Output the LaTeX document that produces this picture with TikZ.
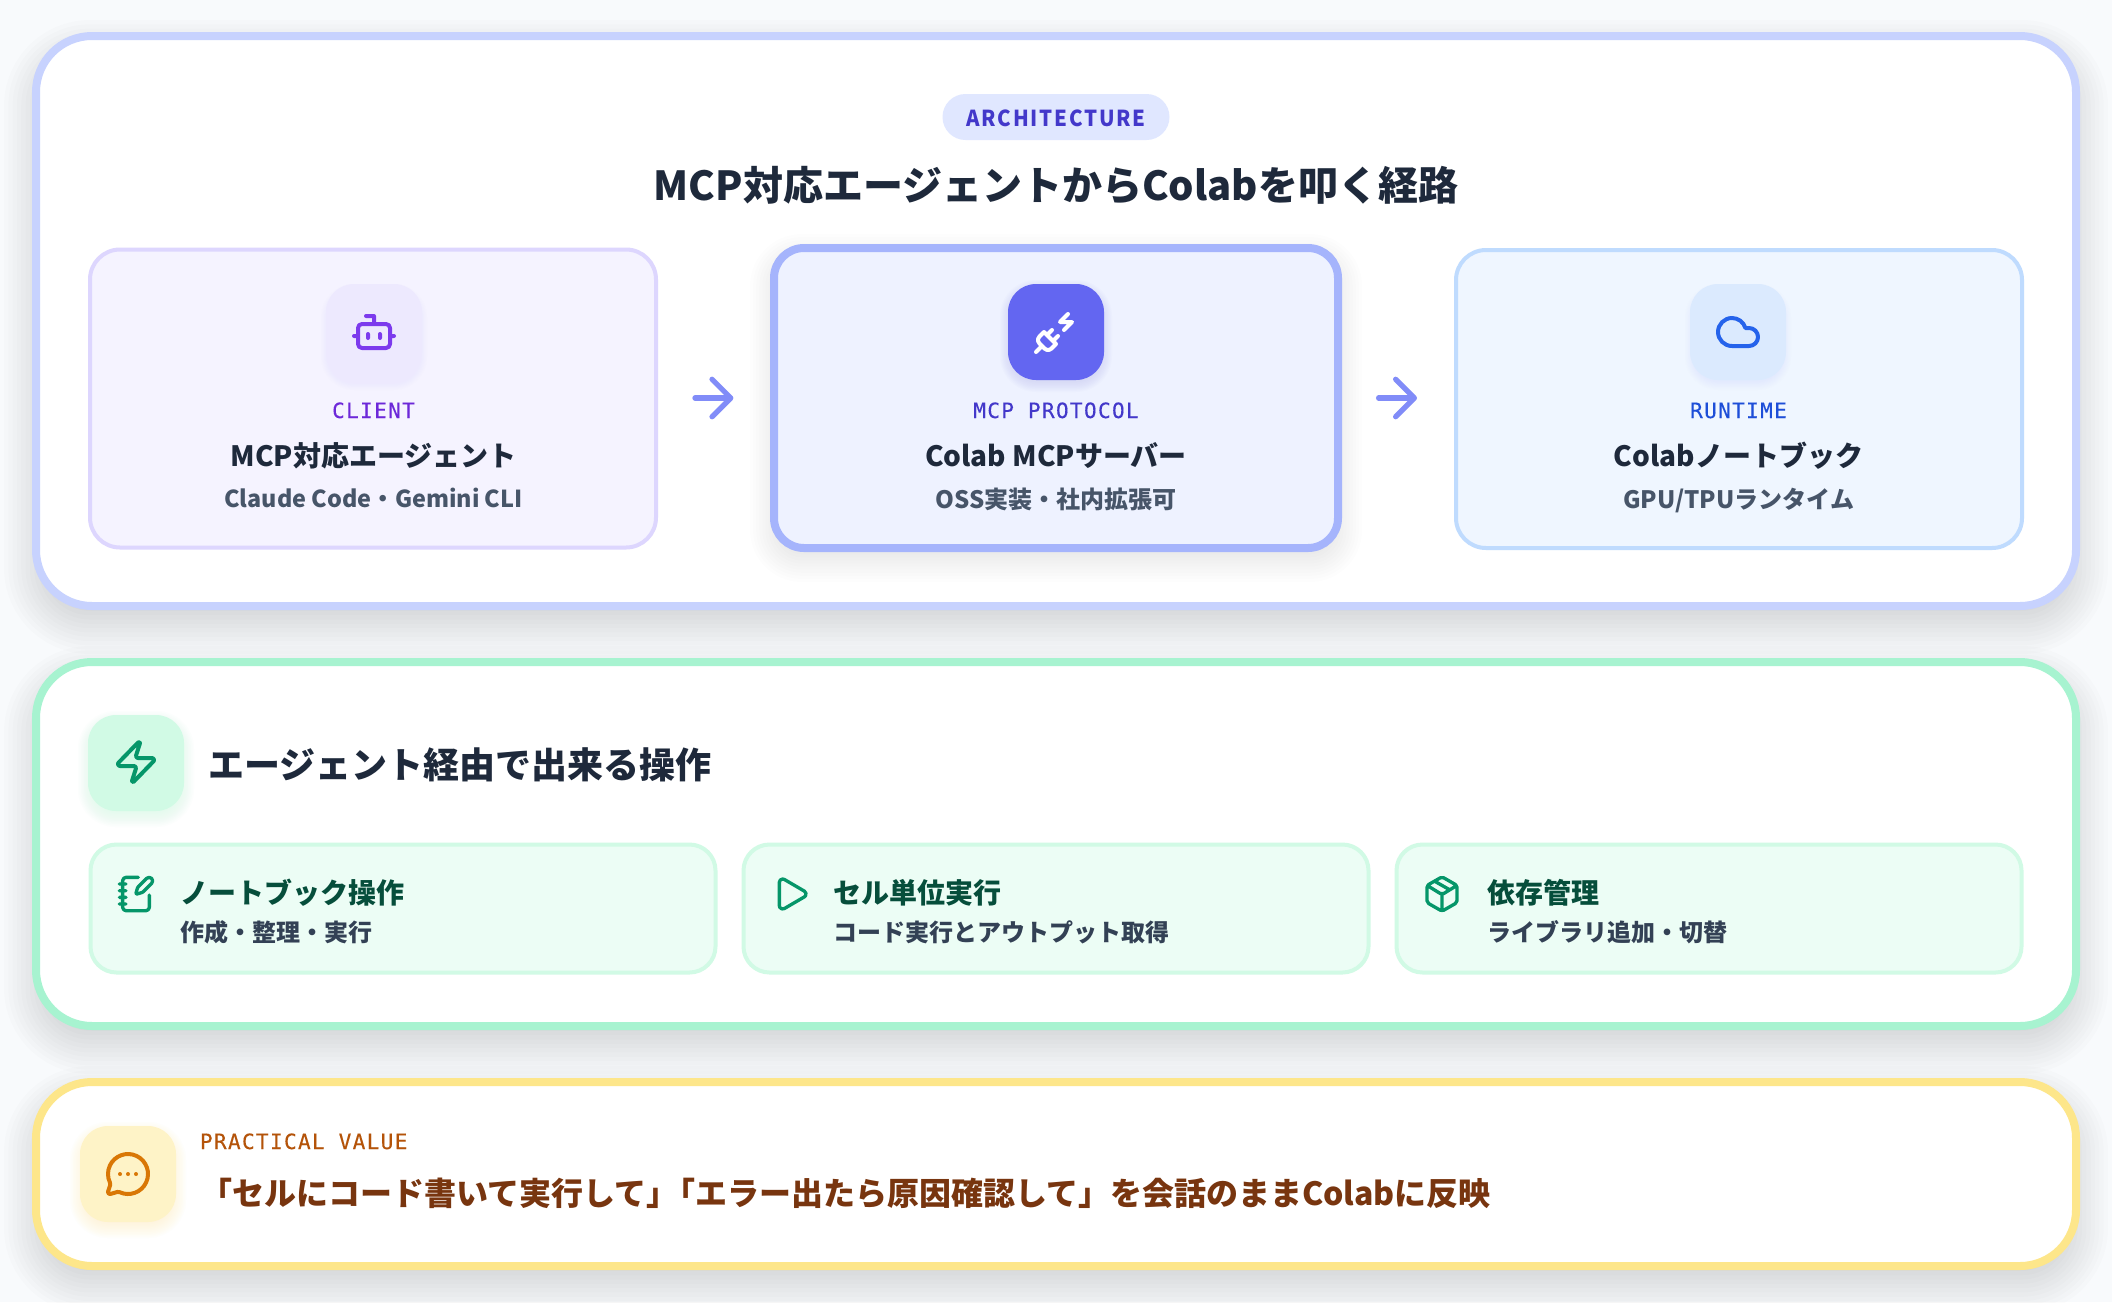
\documentclass[tikz,border=0pt]{standalone}
\usepackage{fontspec}
\usetikzlibrary{arrows.meta,svg.path,calc}
\setmainfont{Noto Sans CJK JP}
\newfontfamily\monof[LetterSpace=6.5,FakeBold=0.25]{DejaVu Sans Mono}
\newfontfamily\archf[LetterSpace=8,FakeStretch=0.93]{Noto Sans CJK JP}
\definecolor{pagebg}{HTML}{F8FAFC}
\definecolor{indigoB}{HTML}{C7D2FE}
\definecolor{greenB}{HTML}{A7F3D0}
\definecolor{amberB}{HTML}{FDE68A}
\definecolor{violetF}{HTML}{F5F3FF}
\definecolor{violetL}{HTML}{DDD6FE}
\definecolor{violetT}{HTML}{EDE9FE}
\definecolor{violetI}{HTML}{7C3AED}
\definecolor{violetD}{HTML}{6D28D9}
\definecolor{indF}{HTML}{EEF2FF}
\definecolor{indL}{HTML}{A5B4FC}
\definecolor{indT}{HTML}{6366F1}
\definecolor{indD}{HTML}{4338CA}
\definecolor{indP}{HTML}{E0E7FF}
\definecolor{arrowc}{HTML}{818CF8}
\definecolor{blueF}{HTML}{EFF6FF}
\definecolor{blueL}{HTML}{BFDBFE}
\definecolor{blueT}{HTML}{DBEAFE}
\definecolor{blueI}{HTML}{2563EB}
\definecolor{blueD}{HTML}{1D4ED8}
\definecolor{ink}{HTML}{1E293B}
\definecolor{slate}{HTML}{475569}
\definecolor{slateD}{HTML}{334155}
\definecolor{greenF}{HTML}{ECFDF5}
\definecolor{greenL}{HTML}{D1FAE5}
\definecolor{greenI}{HTML}{059669}
\definecolor{greenD}{HTML}{064E3B}
\definecolor{amberT}{HTML}{FEF3C7}
\definecolor{amberI}{HTML}{D97706}
\definecolor{amberD}{HTML}{B45309}
\definecolor{brownD}{HTML}{78350F}
\newcommand{\fz}[1]{\fontsize{#1}{#1}\selectfont}
% soft shadow made of stacked translucent rounded boxes
\newcommand{\softshadow}[9]{%
  \foreach \k in {0,...,13}{%
    \pgfmathsetmacro{\gr}{#7*(0.5-\k/13)}%
    \pgfmathsetmacro{\rr}{max(1,#5+\gr)}%
    \fill[#8,fill opacity=#9/14,rounded corners=\rr pt]
      (#1-\gr,#2-\gr+#6) rectangle (#3+\gr,#4+\gr+#6);%
  }}
% icon drawn in a 24-unit box, centred on (#1,#2), #3 px per unit
\newcommand{\lucide}[5]{%
  \begin{scope}[transform canvas={shift={(#1,#2)},scale=#3,yscale=-1,xshift=-12pt,yshift=-12pt}]
    \draw[color=#4,line width=2pt,line cap=round,line join=round] svg {#5};
  \end{scope}}
\tikzset{
  outercard/.style={draw,fill=white,line width=8pt,rounded corners=56pt,inner sep=0pt,outer sep=0pt},
  stagecard/.style={draw,line width=4pt,rounded corners=30pt,inner sep=0pt,outer sep=0pt,minimum width=566pt,minimum height=298pt},
  herocard/.style={draw,line width=8pt,rounded corners=30pt,inner sep=0pt,outer sep=0pt,minimum width=564pt,minimum height=300pt},
  opcard/.style={draw=greenL,fill=greenF,line width=4pt,rounded corners=26pt,inner sep=0pt,outer sep=0pt,minimum width=625pt,minimum height=128pt},
  tile/.style={rounded corners=28pt,inner sep=0pt,outer sep=0pt,minimum width=96pt,minimum height=96pt},
  txt/.style={inner sep=0pt,outer sep=0pt,anchor=base},
  txtl/.style={inner sep=0pt,outer sep=0pt,anchor=base west},
  flowarrow/.style={draw=arrowc,line width=5.3pt,line cap=round,-{Straight Barb[length=18.7pt,width=37.4pt,round]}},
}
\begin{document}
\begin{tikzpicture}[x=1pt,y=-1pt]
\useasboundingbox (0,0) rectangle (2112,1302);
\fill[pagebg] (0,0) rectangle (2112,1302);
% shadows
\softshadow{32}{32}{2080}{610}{58}{16}{56}{black}{0.14}
\softshadow{32}{658}{2080}{1030}{58}{16}{56}{black}{0.14}
\softshadow{32}{1078}{2080}{1270}{58}{16}{56}{black}{0.14}
% outer cards
\node[outercard,draw=indigoB,minimum width=2040pt,minimum height=570pt] (archcard) at (1056,321) {};
\node[outercard,draw=greenB,minimum width=2040pt,minimum height=364pt] (opscard) at (1056,844) {};
\node[outercard,draw=amberB,minimum width=2040pt,minimum height=184pt] (valuecard) at (1056,1174) {};
% heading
\node[fill=indP,rounded corners=23pt,minimum width=227pt,minimum height=46pt,inner sep=0pt] (pill) at (1056,117) {};
\node[txt,text=indD] (pilltext) at (1056,126) {\archf\bfseries\fz{22}ARCHITECTURE};
\node[txt,text=ink] (title) at (1056,200) {\bfseries\fz{40}MCP対応エージェントからColabを叩く経路};
% stage cards
\softshadow{770}{244}{1342}{552}{32}{10}{40}{black}{0.10}
\node[stagecard,draw=violetL,fill=violetF] (client) at (373,398.5) {};
\node[herocard,draw=indL,fill=indF] (server) at (1056,398) {};
\node[stagecard,draw=blueL,fill=blueF] (runtime) at (1739,399) {};
% tiles
\softshadow{326}{284}{422}{380}{28}{5}{10}{violetT}{0.3}
\softshadow{1008}{284}{1104}{380}{28}{4}{16}{indT}{0.2}
\softshadow{1690}{284}{1786}{380}{28}{5}{10}{blueT}{0.3}
\node[tile,fill=violetT] (clienttile) at (374,332) {};
\node[tile,fill=indT] (servertile) at (1056,332) {};
\node[tile,fill=blueT] (runtimetile) at (1738,332) {};
\lucide{374}{332}{2}{violetI}{M 12 8 V 4 H 8 M 6 8 H 18 a 2 2 0 0 1 2 2 V 18 a 2 2 0 0 1 -2 2 H 6 a 2 2 0 0 1 -2 -2 V 10 a 2 2 0 0 1 2 -2 Z M 2 14 h 2 M 20 14 h 2 M 15 13 v 2 M 9 13 v 2}
\lucide{1056}{332}{2}{white}{M 6.3 20.3 a 2.4 2.4 0 0 0 3.4 0 L 12 18 l -6 -6 l -2.3 2.3 a 2.4 2.4 0 0 0 0 3.4 Z M 2 22 l 3 -3 M 7.5 13.5 L 10 11 M 10.5 16.5 L 13 14 M 18 3 l -4 4 h 6 l -4 4}
\lucide{1738}{332}{2}{blueI}{M 17.5 19 H 9 a 7 7 0 1 1 6.71 -9 h 1.79 a 4.5 4.5 0 1 1 0 9 Z}
% stage labels
\node[txt,text=violetD] (l1) at (373.5,418) {\monof\fz{21}CLIENT};
\node[txt,text=ink] (t1) at (373.5,466) {\bfseries\fz{28}MCP対応エージェント};
\node[txt,text=slate] (s1) at (373.5,507.5) {\bfseries\fz{23.4}Claude Code・Gemini CLI};
\node[txt,text=indD] (l2) at (1056,418) {\monof\fz{21}MCP PROTOCOL};
\node[txt,text=ink] (t2) at (1056,466) {\bfseries\fz{28}Colab MCPサーバー};
\node[txt,text=slate] (s2) at (1056,508) {\bfseries\fz{24}OSS実装・社内拡張可};
\node[txt,text=blueD] (l3) at (1738.5,418) {\monof\fz{21}RUNTIME};
\node[txt,text=ink] (t3) at (1738.5,466) {\bfseries\fz{28}Colabノートブック};
\node[txt,text=slate] (s3) at (1738.5,508) {\bfseries\fz{24}GPU/TPUランタイム};
% connectors
\coordinate (flowrow) at (0,398);
\draw[flowarrow,shorten <=39pt,shorten >=40.6pt] (client.east |- flowrow) -- (server.west |- flowrow);
\draw[flowarrow,shorten <=40.6pt,shorten >=39pt] (server.east |- flowrow) -- (runtime.west |- flowrow);
% operations
\softshadow{88}{715}{184}{811}{28}{6}{20}{greenL}{0.9}
\node[tile,fill=greenL] (optile) at (136,763) {};
\lucide{136}{762}{2}{greenI}{M 4 14 a 1 1 0 0 1 -0.78 -1.63 l 9.9 -10.2 a 0.5 0.5 0 0 1 0.86 0.46 l -1.92 6.02 A 1 1 0 0 0 13 10 h 7 a 1 1 0 0 1 0.78 1.63 l -9.9 10.2 a 0.5 0.5 0 0 1 -0.86 -0.46 l 1.92 -6.02 A 1 1 0 0 0 11 14 z}
\node[txtl,text=ink] (opshead) at (208.5,778) {\bfseries\fz{36}エージェント経由で出来る操作};
\node[opcard] (op1) at (403,908.5) {};
\node[opcard] (op2) at (1056,908.5) {};
\node[opcard] (op3) at (1709,908.5) {};
\lucide{136}{894}{1.667}{greenI}{M 13.4 2 H 6 a 2 2 0 0 0 -2 2 v 16 a 2 2 0 0 0 2 2 h 12 a 2 2 0 0 0 2 -2 v -7.4 M 2 6 h 4 M 2 10 h 4 M 2 14 h 4 M 2 18 h 4 M 21.378 5.626 a 1 1 0 1 0 -3.004 -3.004 l -5.01 5.012 a 2 2 0 0 0 -0.506 0.854 l -0.837 2.87 a 0.5 0.5 0 0 0 0.62 0.62 l 2.87 -0.837 a 2 2 0 0 0 0.854 -0.506 z}
\lucide{791}{894}{1.667}{greenI}{M 5 5 a 2 2 0 0 1 3.008 -1.728 l 11.997 6.998 a 2 2 0 0 1 0.003 3.458 l -12 7 A 2 2 0 0 1 5 19 z}
\lucide{1442}{894}{1.667}{greenI}{M 11 21.73 a 2 2 0 0 0 2 0 l 7 -4 A 2 2 0 0 0 21 16 V 8 a 2 2 0 0 0 -1 -1.73 l -7 -4 a 2 2 0 0 0 -2 0 l -7 4 A 2 2 0 0 0 3 8 v 8 a 2 2 0 0 0 1 1.73 z M 12 22 V 12 M 3.3 7 l 7.703 4.734 a 2 2 0 0 0 1.994 0 L 20.7 7 M 7.5 4.27 l 9 5.15}
\node[txtl,text=greenD] (o1t) at (180.5,903) {\bfseries\fz{28}ノートブック操作};
\node[txtl,text=slateD] (o1s) at (180.5,941) {\bfseries\fz{24}作成・整理・実行};
\node[txtl,text=greenD] (o2t) at (833.5,903) {\bfseries\fz{28}セル単位実行};
\node[txtl,text=slateD] (o2s) at (833.5,941) {\bfseries\fz{24}コード実行とアウトプット取得};
\node[txtl,text=greenD] (o3t) at (1487,903) {\bfseries\fz{28}依存管理};
\node[txtl,text=slateD] (o3s) at (1487,941) {\bfseries\fz{24}ライブラリ追加・切替};
% value
\softshadow{80}{1126}{176}{1222}{28}{6}{20}{amberT}{0.9}
\node[tile,fill=amberT] (valuetile) at (128,1174) {};
\lucide{128}{1174}{2}{amberI}{M 2.992 16.342 a 2 2 0 0 1 0.094 1.167 l -1.065 3.29 a 1 1 0 0 0 1.236 1.168 l 3.413 -0.998 a 2 2 0 0 1 1.099 0.092 a 10 10 0 1 0 -4.777 -4.719 M 8 12 h 0.01 M 12 12 h 0.01 M 16 12 h 0.01}
\node[txtl,text=amberD] (vl) at (200,1149) {\monof\fz{21}PRACTICAL VALUE};
\node[txtl,text=brownD] (vt) at (200,1205) {\bfseries\fz{32}「セルにコード書いて実行して」\kern-15pt「エラー出たら原因確認して」を会話のままColabに反映};
\end{tikzpicture}
\end{document}
